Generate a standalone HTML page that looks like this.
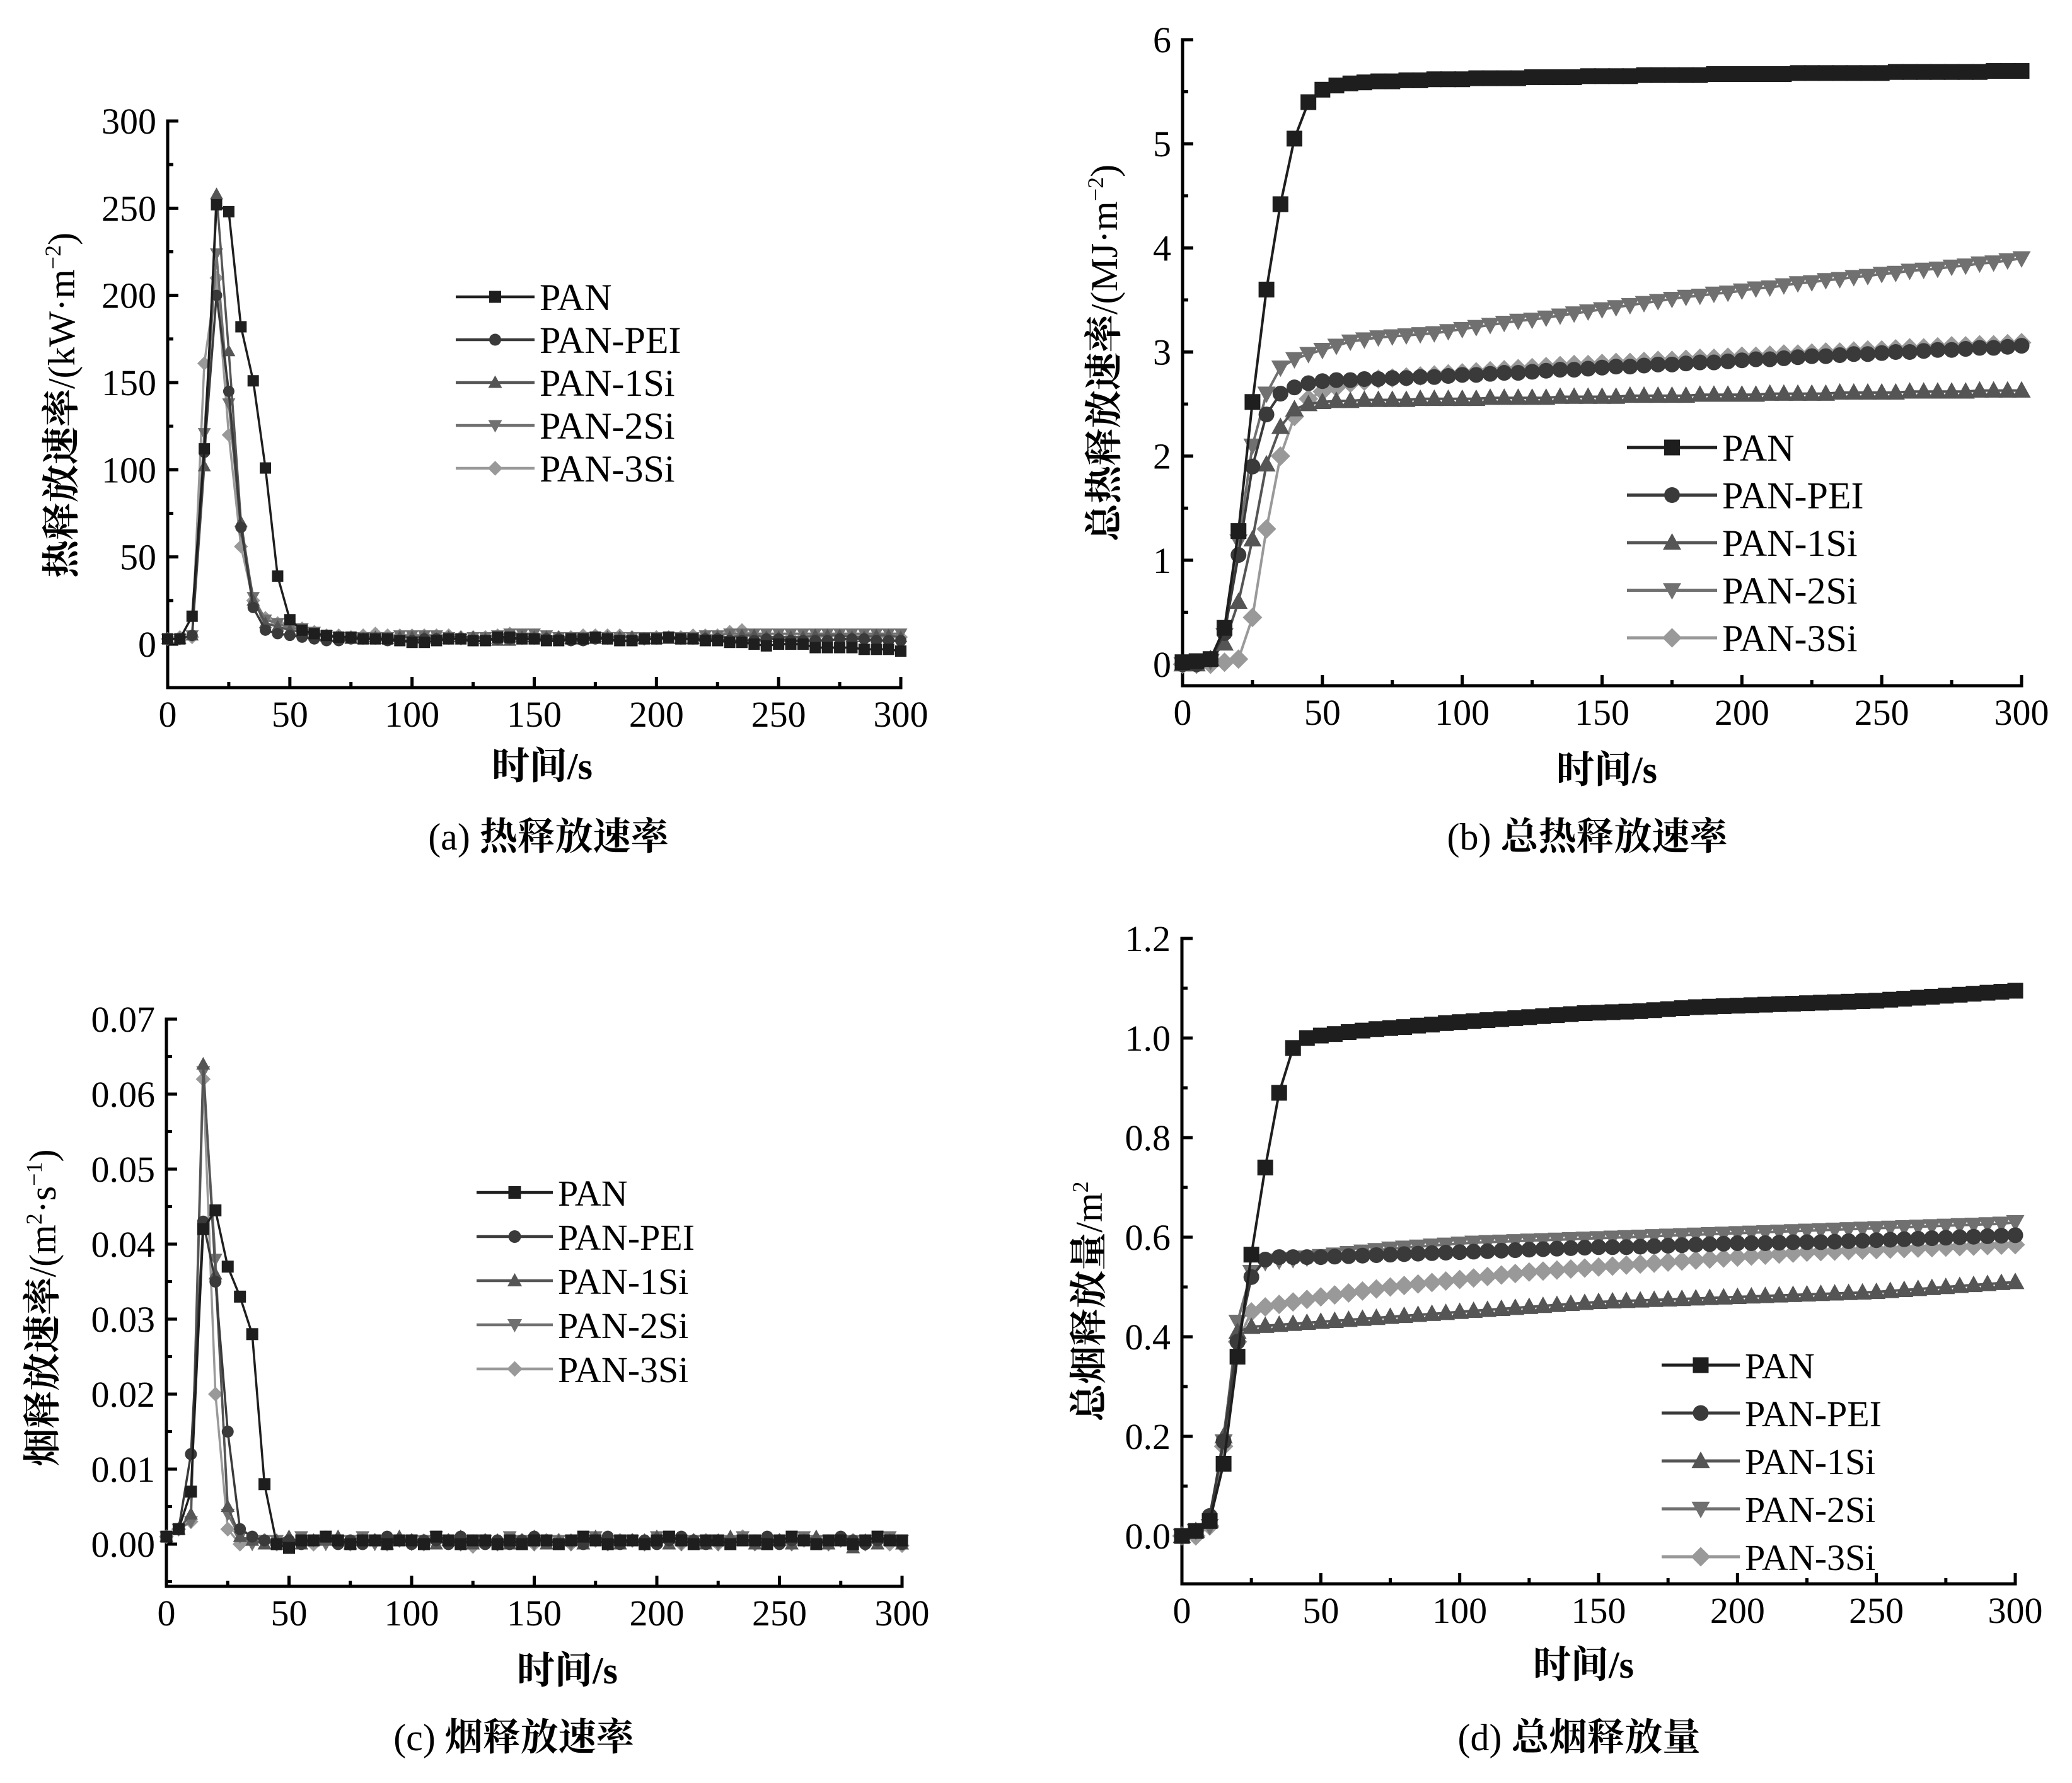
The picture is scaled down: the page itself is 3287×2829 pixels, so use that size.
<!DOCTYPE html>
<html><head><meta charset="utf-8"><title>PAN fire performance</title>
<style>
html,body{margin:0;padding:0;background:#fff;}
svg{display:block;}
text{font-family:"Liberation Serif","Noto Serif CJK SC",serif;fill:#000;}
.cjk{font-family:"Liberation Serif","Noto Serif CJK SC",serif;font-weight:bold;}
</style></head>
<body>
<svg id="fig" xmlns="http://www.w3.org/2000/svg" width="3287" height="2829" viewBox="0 0 3287 2829">
<rect width="3287" height="2829" fill="#fff"/>
</svg>
<script>
// ---------- shared data ----------
const seriesNames = ["PAN","PAN-PEI","PAN-1Si","PAN-2Si","PAN-3Si"];
const seriesColors = ["#1e1e1e","#3a3a3a","#555555","#707070","#999999"];
const seriesMarkers = ["square","circle","tri-up","tri-down","diamond"];
const xTickLabels = ["0","50","100","150","200","250","300"];

// (a) heat release rate, kW/m2, samples every 5 s from 0 to 300
const hrrPAN = [3,3,16,112,252,248,182,151,101,39, 14,8,6,5,4,4,3,3,3,2, 1,1,2,3,3,2,2,4,4,3, 3,2,2,3,3,4,3,2,2,3, 3,4,3,3,2,2,1,1,0,-1, 0,0,0,-2,-2,-2,-2,-3,-3,-3, -4];
const hrrPEI = [3,3,5,110,200,145,67,21,8,6, 5,4,3,2,2,3,3,3,2,2, 2,3,3,3,3,2,2,3,3,3, 3,3,3,2,2,3,3,2,2,3, 3,4,3,3,3,3,2,2,2,3, 3,2,2,2,2,3,3,3,2,2, 2];
const hrr1Si = [3,3,5,102,258,168,70,25,12,10, 8,7,5,4,4,3,3,4,3,4, 4,4,3,4,4,4,3,2,2,4, 4,4,4,3,3,3,4,4,4,3, 3,3,3,3,4,4,4,5,5,4, 4,4,4,5,5,5,4,4,5,5, 4];
const hrr2Si = [3,3,5,121,224,138,65,27,14,12, 9,9,7,5,4,4,4,4,4,5, 5,5,5,4,3,4,4,5,6,6, 6,5,4,4,4,4,4,4,4,4, 4,4,4,4,5,5,6,6,6,6, 6,6,6,6,6,6,6,6,6,6, 6];
const hrr3Si = [3,4,4,161,210,120,56,25,15,12, 10,9,7,5,5,4,5,6,5,5, 5,5,5,5,4,4,4,5,6,5, 5,4,4,4,5,5,5,5,4,3, 4,4,4,5,5,5,7,8,5,4, 4,4,4,4,5,5,5,5,4,4, 4];
const hrrYTicks = ["0","50","100","150","200","250","300"];

// (b) total heat release, MJ/m2
const thrPAN = [0.02,0.03,0.05,0.35,1.28,2.52,3.6,4.42,5.05,5.4, 5.52,5.56,5.58,5.59,5.6,5.6,5.61,5.61,5.62,5.62, 5.62,5.63,5.63,5.63,5.63,5.64,5.64,5.64,5.64,5.65, 5.65,5.65,5.65,5.66,5.66,5.66,5.66,5.66,5.67,5.67, 5.67,5.67,5.67,5.67,5.68,5.68,5.68,5.68,5.68,5.68, 5.68,5.69,5.69,5.69,5.69,5.69,5.69,5.69,5.7,5.7, 5.7];
const thrPEI = [0,0,0.05,0.3,1.05,1.9,2.4,2.6,2.66,2.7, 2.72,2.73,2.73,2.74,2.74,2.75,2.75,2.76,2.76,2.77, 2.78,2.78,2.79,2.8,2.8,2.81,2.82,2.83,2.83,2.84, 2.85,2.86,2.86,2.87,2.88,2.88,2.89,2.9,2.9,2.91, 2.92,2.93,2.93,2.94,2.95,2.96,2.96,2.97,2.98,2.98, 2.99,3.0,3.0,3.01,3.02,3.02,3.03,3.04,3.04,3.05, 3.06];
const thr1Si = [0,0,0.05,0.2,0.6,1.2,1.92,2.28,2.45,2.5, 2.52,2.53,2.53,2.54,2.54,2.54,2.54,2.55,2.55,2.55, 2.55,2.55,2.56,2.56,2.56,2.56,2.56,2.57,2.57,2.57, 2.57,2.57,2.58,2.58,2.58,2.58,2.58,2.59,2.59,2.59, 2.59,2.59,2.6,2.6,2.6,2.6,2.6,2.61,2.61,2.61, 2.61,2.61,2.62,2.62,2.62,2.62,2.62,2.63,2.63,2.63, 2.63];
const thr2Si = [0,0,0.03,0.28,1.18,2.1,2.6,2.85,2.93,2.98, 3.02,3.06,3.1,3.12,3.14,3.15,3.16,3.17,3.18,3.2, 3.22,3.24,3.26,3.28,3.3,3.31,3.33,3.35,3.37,3.39, 3.41,3.43,3.45,3.47,3.49,3.51,3.53,3.54,3.56,3.57, 3.59,3.61,3.62,3.64,3.66,3.67,3.69,3.7,3.72,3.73, 3.75,3.76,3.78,3.79,3.8,3.82,3.83,3.85,3.86,3.88, 3.9];
const thr3Si = [0,0,0,0.02,0.05,0.45,1.3,2.0,2.38,2.55, 2.62,2.66,2.7,2.72,2.74,2.75,2.76,2.77,2.78,2.79, 2.8,2.81,2.82,2.83,2.84,2.85,2.86,2.87,2.88,2.88, 2.89,2.9,2.9,2.91,2.92,2.92,2.93,2.94,2.94,2.95, 2.96,2.96,2.97,2.98,2.98,2.99,3.0,3.0,3.01,3.02, 3.02,3.03,3.04,3.04,3.05,3.06,3.06,3.07,3.07,3.08, 3.09];
const thrYTicks = ["0","1","2","3","4","5","6"];

// (c) smoke production rate, m2/s
const sprPAN = [0.001,0.002,0.007,0.042,0.0445,0.037,0.033,0.028,0.008,0.0, -0.0005,0.0005,0.0005,0.001,0.0005,0.0,0.0005,0.0005,0.0,0.0005, 0.0005,0.0,0.001,0.0005,0.0,0.0005,0.0005,0.0,0.0005,0.0, 0.0005,0.0005,0.0,0.0005,0.001,0.0005,0.0,0.0005,0.0005,0.0, 0.0005,0.001,0.0005,0.0,0.0005,0.0005,0.0,0.0005,0.0005,0.0, 0.0005,0.001,0.0005,0.0,0.0005,0.0005,0.0,0.0005,0.001,0.0005, 0.0005];
const sprPEI = [0.001,0.002,0.012,0.043,0.035,0.015,0.002,0.001,0.0005,0.0, 0.0005,0.0,0.0005,0.001,0.0,0.0005,0.0,0.0005,0.001,0.0005, 0.0,0.0005,0.0005,0.0,0.001,0.0005,0.0,0.0005,0.0,0.0005, 0.001,0.0005,0.0,0.0005,0.0,0.0005,0.001,0.0,0.0005,0.0005, 0.0,0.0005,0.001,0.0005,0.0,0.0005,0.0,0.0005,0.0005,0.001, 0.0,0.0005,0.0005,0.0,0.0005,0.001,0.0005,0.0,0.0005,0.0005, 0.0];
const spr1Si = [0.001,0.002,0.004,0.064,0.036,0.005,0.001,0.0005,0.0,0.0005, 0.001,0.0,0.0005,0.0005,0.001,0.0,0.0005,0.0005,0.0,0.001, 0.0005,0.0005,0.0,0.0005,0.001,0.0,0.0005,0.0005,0.0,0.0005, 0.001,0.0,0.0005,0.0005,0.0,0.001,0.0005,0.0,0.0005,0.0005, 0.001,0.0,0.0005,0.0005,0.0,0.0005,0.001,0.0005,0.0,0.0005, 0.0005,0.0,0.0005,0.001,0.0,0.0005,-0.0005,0.0005,0.0,0.0005, 0.0];
const spr2Si = [0.001,0.002,0.003,0.063,0.038,0.004,0.001,0.0,0.0005,0.0005, 0.0,0.001,0.0005,0.0,0.0005,0.0005,0.001,0.0,0.0005,0.0005, 0.0,0.0005,0.001,0.0005,0.0,0.0005,0.0005,0.0,0.001,0.0005, 0.0,0.0005,0.0005,0.0,0.0005,0.001,0.0,0.0005,0.0005,0.0, 0.001,0.0005,0.0,0.0005,0.0005,0.0,0.0005,0.001,0.0,0.0005, 0.0005,0.0,0.001,0.0005,0.0,0.0005,0.0005,0.0,0.0005,0.001, 0.0005];
const spr3Si = [0.001,0.002,0.003,0.062,0.02,0.002,0.0,0.0005,0.0005,0.0, 0.0005,0.0005,0.0,0.0005,0.0005,0.0,0.0005,0.0005,0.0,0.0005, 0.0005,0.0,0.0005,0.0005,0.0,-0.0003,0.0005,0.0,0.0005,0.0005, 0.0,0.0005,0.0005,0.0,0.0005,0.0005,0.0,0.0005,0.0005,0.0, 0.0005,0.0005,0.0,0.0005,0.0005,0.0,0.0005,0.001,0.0,0.0005, 0.0005,0.0,0.0005,0.0005,0.0,0.0005,0.0005,0.0,0.0005,0.0, -0.0002];
const sprYTicks = ["0.00","0.01","0.02","0.03","0.04","0.05","0.06","0.07"];

// (d) total smoke release, m2
const tsrPAN = [0,0.01,0.03,0.145,0.36,0.565,0.74,0.89,0.98,1.0, 1.005,1.008,1.012,1.015,1.018,1.02,1.022,1.025,1.027,1.03, 1.032,1.034,1.036,1.038,1.04,1.042,1.044,1.046,1.048,1.05, 1.051,1.052,1.053,1.054,1.056,1.058,1.06,1.062,1.063,1.064, 1.065,1.066,1.067,1.068,1.069,1.07,1.071,1.072,1.073,1.074, 1.075,1.077,1.079,1.081,1.083,1.085,1.087,1.089,1.091,1.093, 1.095];
const tsrPEI = [0,0.01,0.04,0.19,0.39,0.52,0.555,0.56,0.56,0.56, 0.56,0.561,0.562,0.563,0.564,0.565,0.566,0.567,0.568,0.569, 0.57,0.571,0.572,0.573,0.574,0.575,0.576,0.577,0.578,0.579, 0.58,0.58,0.58,0.581,0.582,0.583,0.584,0.585,0.586,0.587, 0.588,0.588,0.588,0.589,0.59,0.59,0.59,0.591,0.592,0.593, 0.594,0.595,0.596,0.597,0.598,0.599,0.6,0.601,0.602,0.603, 0.604];
const tsr1Si = [0,0.01,0.03,0.2,0.41,0.42,0.422,0.424,0.426,0.428, 0.43,0.432,0.434,0.436,0.438,0.44,0.442,0.444,0.446,0.448, 0.45,0.452,0.454,0.456,0.458,0.46,0.462,0.464,0.466,0.468, 0.47,0.471,0.472,0.473,0.474,0.475,0.476,0.477,0.478,0.479, 0.48,0.481,0.482,0.483,0.484,0.485,0.486,0.487,0.488,0.489, 0.49,0.492,0.494,0.496,0.498,0.5,0.502,0.504,0.506,0.508, 0.51];
const tsr2Si = [0,0.01,0.02,0.19,0.43,0.53,0.55,0.553,0.556,0.559, 0.562,0.565,0.568,0.571,0.574,0.577,0.579,0.581,0.583,0.585, 0.587,0.589,0.59,0.591,0.592,0.593,0.594,0.595,0.596,0.597, 0.598,0.599,0.6,0.601,0.602,0.603,0.604,0.605,0.606,0.607, 0.608,0.609,0.61,0.611,0.612,0.613,0.614,0.615,0.616,0.617, 0.618,0.619,0.62,0.621,0.622,0.623,0.624,0.625,0.626,0.627, 0.63];
const tsr3Si = [0,0,0.02,0.18,0.39,0.45,0.46,0.465,0.47,0.475, 0.48,0.484,0.488,0.492,0.496,0.5,0.503,0.506,0.509,0.512, 0.515,0.518,0.521,0.524,0.527,0.53,0.532,0.534,0.536,0.538, 0.54,0.542,0.544,0.546,0.548,0.55,0.552,0.554,0.556,0.558, 0.56,0.562,0.564,0.566,0.568,0.57,0.571,0.572,0.573,0.574, 0.575,0.576,0.577,0.578,0.579,0.58,0.581,0.582,0.583,0.584, 0.585];
const tsrYTicks = ["0.0","0.2","0.4","0.6","0.8","1.0","1.2"];

// ---------- drawing ----------
const NS = "http://www.w3.org/2000/svg";
const svg = document.getElementById("fig");
function mk(tag, attrs, parent){
  const e = document.createElementNS(NS, tag);
  for (const k in attrs) e.setAttribute(k, attrs[k]);
  (parent || svg).appendChild(e);
  return e;
}
function marker(g, kind, x, y, s, color){
  let e;
  if (kind === "square") e = mk("rect",{x:x-s/2,y:y-s/2,width:s,height:s,fill:color},g);
  else if (kind === "circle") e = mk("circle",{cx:x,cy:y,r:s/2,fill:color},g);
  else if (kind === "tri-up") e = mk("polygon",{points:`${x},${y-s*0.6} ${x+s*0.58},${y+s*0.45} ${x-s*0.58},${y+s*0.45}`,fill:color},g);
  else if (kind === "tri-down") e = mk("polygon",{points:`${x},${y+s*0.6} ${x+s*0.58},${y-s*0.45} ${x-s*0.58},${y-s*0.45}`,fill:color},g);
  else e = mk("polygon",{points:`${x},${y-s*0.62} ${x+s*0.62},${y} ${x},${y+s*0.62} ${x-s*0.62},${y}`,fill:color},g);
  return e;
}

function drawChart(cfg){
  const g = mk("g",{});
  
  
  const xs = v => cfg.x0 + (v/300)*(cfg.x1-cfg.x0);
  const ys = v => cfg.y0 - ((v - 0)/(cfg.ymax))*(cfg.y0-cfg.ytop);
  const ax = mk("g",{stroke:"#000","stroke-width":5,fill:"none"},g);
  
  
  mk("path",{d:`M${cfg.x0},${cfg.ytop} V${cfg.ybot} H${cfg.x1}`,"stroke-linecap":"square"},ax);
  const nY = cfg.yTicks.length;
  for (let i=0;i<nY;i++){
    const v = i*cfg.ystep, y = ys(v);
    mk("line",{x1:cfg.x0,y1:y,x2:cfg.x0+17,y2:y},ax);
    if (i<nY-1){ const ym = ys(v+cfg.ystep/2); mk("line",{x1:cfg.x0,y1:ym,x2:cfg.x0+9,y2:ym},ax); }
    const t = mk("text",{x:cfg.x0-18,y:y+20,"font-size":58,"text-anchor":"end"},g);
    t.textContent = cfg.yTicks[i];
    
    
  }
  const ymMin = ys(-cfg.ystep/2);
  if (ymMin < cfg.ybot - 2) mk("line",{x1:cfg.x0,y1:ymMin,x2:cfg.x0+9,y2:ymMin},ax);
  for (let i=0;i<xTickLabels.length;i++){
    const x = xs(i*50);
    mk("line",{x1:x,y1:cfg.ybot,x2:x,y2:cfg.ybot-17},ax);
    if (i<6){ const xm = xs(i*50+25); mk("line",{x1:xm,y1:cfg.ybot,x2:xm,y2:cfg.ybot-9},ax); }
    const t = mk("text",{x:x,y:cfg.ybot+62,"font-size":58,"text-anchor":"middle"},g);
    t.textContent = xTickLabels[i];
    
    
  }
  for (let s=cfg.series.length-1;s>=0;s--){
    const data = cfg.series[s];
    const sg = mk("g",{},g);
    
    
    let d = "";
    data.forEach((v,i)=>{ d += (i?"L":"M") + xs(i*5).toFixed(1) + "," + ys(v).toFixed(1); });
    const p = mk("path",{d:d,stroke:seriesColors[s],"stroke-width":cfg.lw,fill:"none","stroke-linejoin":"round"},sg);
    
    
    data.forEach((v,i)=>{
      const m = marker(sg, seriesMarkers[s], xs(i*5), ys(v), cfg.ms, seriesColors[s]);
      
      
    });
  }
  const lg = mk("g",{},g);
  
  
  for (let s=0;s<5;s++){
    const y = cfg.legY + s*cfg.legDy;
    const eg = mk("g",{},lg);
    
    
    mk("line",{x1:cfg.legX,y1:y,x2:cfg.legX+cfg.legW,y2:y,stroke:seriesColors[s],"stroke-width":cfg.lw+1},eg);
    marker(eg, seriesMarkers[s], cfg.legX+cfg.legW/2, y, cfg.legMs, seriesColors[s]);
    const t = mk("text",{x:cfg.legX+cfg.legW+8,y:y+21,"font-size":cfg.legFs},eg);
    t.textContent = seriesNames[s];
  }
  const xt = mk("text",{x:cfg.xtX,y:cfg.xtY,"font-size":60,"text-anchor":"middle",class:"cjk"},g);
  xt.textContent = "时间/s";
  
  
  const yt = mk("text",{x:0,y:0,"font-size":60,"text-anchor":"middle",transform:`translate(${cfg.ytX},${cfg.ytY}) rotate(-90)`},g);
  
  
  cfg.yTitle.forEach(part=>{
    const ts = mk("tspan",part.sup?{"font-size":36,dy:-22}:(part.after?{dy:22}:{}),yt);
    if (part.cjk) ts.setAttribute("font-weight","bold");
    ts.textContent = part.t;
  });
  const cap = mk("text",{x:cfg.capX,y:cfg.capY,"font-size":60,"text-anchor":"middle"},g);
  
  
  const c1 = mk("tspan",{},cap); c1.textContent = cfg.cap[0];
  const c2 = mk("tspan",{"font-weight":"bold"},cap); c2.textContent = cfg.cap[1];
}

drawChart({name:"chart-a-hrr", x0:266,x1:1429, y0:1022, ytop:192, ymax:300, ybot:1091, ystep:50,
  yTicks:hrrYTicks, series:[hrrPAN,hrrPEI,hrr1Si,hrr2Si,hrr3Si], lw:3.5, ms:18, legMs:19,
  legX:723, legW:125, legY:471, legDy:68, legFs:60,
  xtX:860, xtY:1236, ytX:118, ytY:643,
  yTitle:[{t:"热释放速率",cjk:true},{t:"/(kW·m"},{t:"−2",sup:true},{t:")",after:true}],
  capX:870, capY:1348, cap:["(a) ","热释放速率"]});

drawChart({name:"chart-b-thr", x0:1876,x1:3207, y0:1054, ytop:63, ymax:6, ybot:1088, ystep:1,
  yTicks:thrYTicks, series:[thrPAN,thrPEI,thr1Si,thr2Si,thr3Si], lw:4, ms:25, legMs:25,
  legX:2581, legW:143, legY:710, legDy:75.5, legFs:60,
  xtX:2549, xtY:1242, ytX:1772, ytY:560,
  yTitle:[{t:"总热释放速率",cjk:true},{t:"/(MJ·m"},{t:"−2",sup:true},{t:")",after:true}],
  capX:2518, capY:1348, cap:["(b) ","总热释放速率"]});

drawChart({name:"chart-c-spr", x0:264,x1:1431, y0:2450, ytop:1617, ymax:0.07, ybot:2517, ystep:0.01,
  yTicks:sprYTicks, series:[sprPAN,sprPEI,spr1Si,spr2Si,spr3Si], lw:3.5, ms:19, legMs:20,
  legX:756, legW:121, legY:1892, legDy:70, legFs:58,
  xtX:900, xtY:2671, ytX:88, ytY:2075,
  yTitle:[{t:"烟释放速率",cjk:true},{t:"/(m"},{t:"2",sup:true},{t:"·s",after:true},{t:"−1",sup:true},{t:")",after:true}],
  capX:815, capY:2777, cap:["(c) ","烟释放速率"]});

drawChart({name:"chart-d-tsr", x0:1875,x1:3197, y0:2437, ytop:1489, ymax:1.2, ybot:2513, ystep:0.2,
  yTicks:tsrYTicks, series:[tsrPAN,tsrPEI,tsr1Si,tsr2Si,tsr3Si], lw:4, ms:25, legMs:25,
  legX:2636, legW:124, legY:2166, legDy:76, legFs:58,
  xtX:2512, xtY:2662, ytX:1748, ytY:2065,
  yTitle:[{t:"总烟释放量",cjk:true},{t:"/m"},{t:"2",sup:true}],
  capX:2505, capY:2777, cap:["(d) ","总烟释放量"]});
</script>
</body></html>
